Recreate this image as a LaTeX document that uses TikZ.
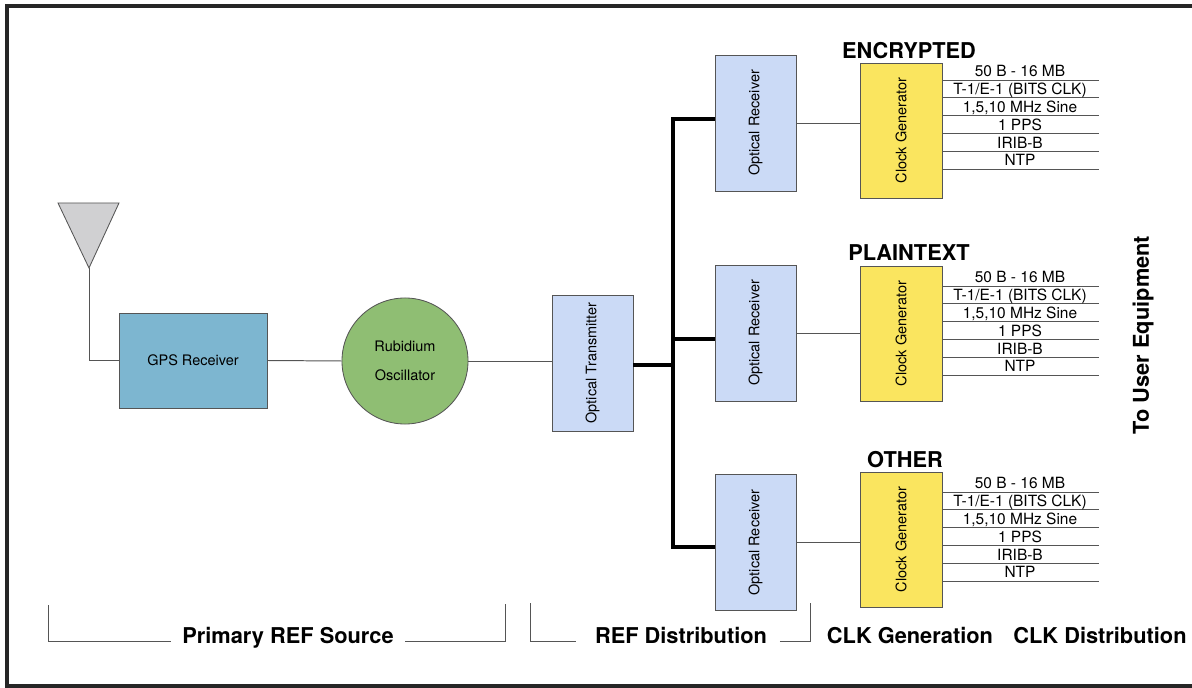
\documentclass[tikz,border=0pt]{standalone}
\usepackage{fontspec}
\setmainfont{TeX Gyre Heros}
\usetikzlibrary{positioning}
\definecolor{gpsblue}{RGB}{125,182,208}
\definecolor{rbgreen}{RGB}{143,190,115}
\definecolor{optblue}{RGB}{203,218,246}
\definecolor{clkyellow}{RGB}{250,229,95}
\definecolor{antgray}{RGB}{208,208,210}
\definecolor{linegray}{RGB}{85,85,85}

\begin{document}
\begin{tikzpicture}[x=0.025cm, y=-0.025cm,
        box/.style={draw=linegray, line width=0.6pt, inner sep=0pt},
        optbox/.style={box, fill=optblue, minimum width=2.025cm, minimum height=3.4cm, font=\fontsize{10.3}{12}\selectfont},
        clkbox/.style={box, fill=clkyellow, minimum width=2.05cm, minimum height=3.375cm, font=\fontsize{10.3}{12}\selectfont},
        wire/.style={draw=linegray, line width=0.7pt},
        bus/.style={line width=2.2pt, black},
        sig/.style={font=\fontsize{11}{12}\selectfont, anchor=base, inner sep=0pt},
        grp/.style={font=\fontsize{15.5}{18}\selectfont\bfseries, inner sep=0pt},
        sec/.style={font=\fontsize{15.5}{18}\selectfont\bfseries, anchor=base, inner sep=0pt}]

        \useasboundingbox (0,0) rectangle (1192,688);

        % Draw frame
        \draw[line width=2.2pt, black!85] (1200,6) -- (7,6) -- (7,686) -- (1200,686);

        % Antenna
        \coordinate (antL) at (58,203);
        \coordinate (antR) at (119,203);
        \coordinate (ant) at (89,268);
        \filldraw[fill=antgray, draw=linegray, line width=0.6pt] (antL) -- (antR) -- (ant) -- cycle;

        % Primary reference source
        \node[box, fill=gpsblue, minimum width=3.7cm, minimum height=2.375cm, font=\fontsize{10.3}{12}\selectfont] (gps) at (193,360.5) {GPS Receiver};
        \node[box, circle, fill=rbgreen, minimum size=3.15cm, align=center, font=\fontsize{10.3}{20.6}\selectfont] (rb) at (405,361) {Rubidium\\Oscillator};
        \node[optbox] (tx) at (592.5,363) {\rotatebox{90}{Optical Transmitter}};

        % Optical receivers
        \node[optbox] (rx1) at (755.5,123) {\rotatebox{90}{Optical Receiver}};
        \node[optbox] (rx2) at (755.5,333) {\rotatebox{90}{Optical Receiver}};
        \node[optbox] (rx3) at (755.5,542.5) {\rotatebox{90}{Optical Receiver}};

        % Clock generators
        \node[clkbox] (cg1) at (901,130.5) {\rotatebox{90}{Clock Generator}};
        \node[clkbox] (cg2) at (901,333.5) {\rotatebox{90}{Clock Generator}};
        \node[clkbox] (cg3) at (901,539.5) {\rotatebox{90}{Clock Generator}};

        \node[grp] (enc) at (909,51) {ENCRYPTED};
        \node[grp] (pla) at (909,253) {PLAINTEXT};
        \node[grp] (oth) at (905,460) {OTHER};

        % Wires
        \draw[wire] (ant) |- (gps.west);
        \draw[wire] (gps.east) -- (rb.west);
        \draw[wire] (rb.east) -- (rb.east -| tx.west);

        % Distribution bus
        \coordinate (b0) at (673,365);
        \coordinate (b1) at (673,119);
        \coordinate (b2) at (673,339);
        \coordinate (b3) at (673,547);
        \draw[bus] (tx.east |- b0) -- (b0);
        \draw[bus] (b3 -| rx3.west) -- (b3) -- (b1) -- (b1 -| rx1.west);
        \draw[bus] (b2) -- (b2 -| rx2.west);

        \draw[wire] (rx1.east) -- (rx1.east -| cg1.west);
        \draw[wire] (rx2.east) -- (rx2.east -| cg2.west);
        \draw[wire] (rx3.east) -- (rx3.east -| cg3.west);

        % Clock outputs
        \foreach \g/\y in {cg1/80, cg2/286, cg3/492} {
            \foreach [count=\i from 0] \s in {50 B - 16 MB, T-1/E-1 (BITS CLK), {1,5,10 MHz Sine}, 1 PPS, IRIB-B, NTP} {
                \coordinate (\g-e\i) at (1099,{\y+\i*17.8});
                \draw[wire] (\g.east |- \g-e\i) -- (\g-e\i);
                \node[sig] (\g-s\i) at (1020,{\y+\i*17.8-3}) {\s};
            }
        }

        \node[grp, rotate=90] (tue) at (1143,335) {To User Equipment};

        % Section labels
        \node[sec] (prim) at (288,644) {Primary REF Source};
        \node[sec] (refd) at (681,644) {REF Distribution};
        \node[sec] (clkg) at (910,644) {CLK Generation};
        \node[sec] (clkd) at (1100,644) {CLK Distribution};

        \coordinate (p1) at (48,605);
        \coordinate (p2) at (505,604);
        \coordinate (r1) at (530,603);
        \coordinate (r2) at (810,603);
        \draw[wire] (p1) |- ([xshift=-8pt,yshift=2pt]prim.base west);
        \draw[wire] ([xshift=8pt,yshift=2pt]prim.base east) -| (p2);
        \draw[wire] (r1) |- ([xshift=-13pt,yshift=2pt]refd.base west);
        \draw[wire] ([xshift=9pt,yshift=2pt]refd.base east) -| (r2);
    \end{tikzpicture}
\end{document}
